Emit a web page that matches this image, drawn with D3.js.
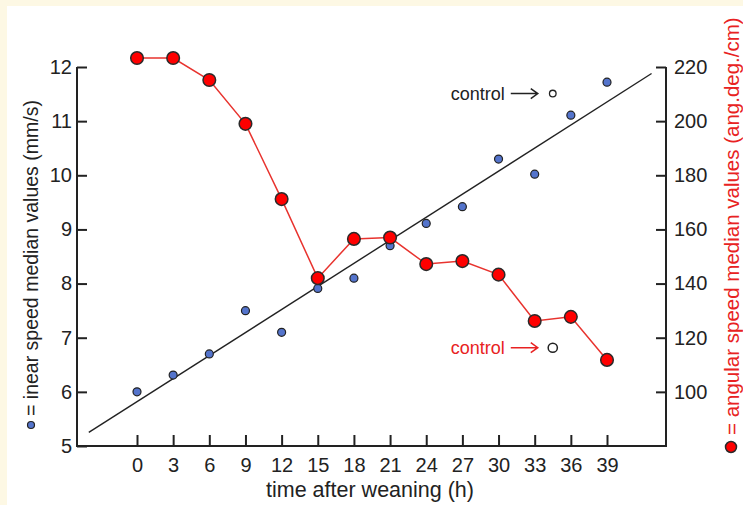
<!DOCTYPE html>
<html><head><meta charset="utf-8">
<script src="https://cdn.jsdelivr.net/npm/d3@7"></script>
<style>
html,body{margin:0;padding:0;background:#fdf8e4;}
svg{display:block;font-family:"Liberation Sans",Arial,sans-serif;}
svg text{font-family:"Liberation Sans",Arial,sans-serif;}
</style></head>
<body>
<svg id="chart" width="743" height="505"></svg>
<script>
const hours = [0,3,6,9,12,15,18,21,24,27,30,33,36,39];
const linearSpeed = [6.0,6.31,6.70,7.50,7.10,7.91,8.10,8.70,9.11,9.42,10.30,10.02,11.11,11.72];
const angularSpeed = [223.3,223.3,215.2,199.0,171.2,142.0,156.5,157.0,147.2,148.3,143.3,126.2,127.7,111.8];
const controlHour = 34.5;
const controlLinear = 11.51;
const controlAngular = 116.3;
const fitHours = [-4.0,42.7];
const fitLinear = [5.25,11.88];
const leftTicks = [5,6,7,8,9,10,11,12];
const rightTicks = [100,120,140,160,180,200,220];
const xTicks = [0,3,6,9,12,15,18,21,24,27,30,33,36,39];

const svg = d3.select("#chart");
svg.append("rect").attr("x",7).attr("y",6).attr("width",736).attr("height",499).attr("fill","#ffffff");

const x = d3.scaleLinear().domain([0,39]).range([137,607]);
const yL = d3.scaleLinear().domain([5,12]).range([446,67]);
const yR = d3.scaleLinear().domain([80,220]).range([446,67]);
const axL = 77, axR = 666, axB = 446, axT = 67;
const ink = "#222";
const fmt = d3.format("d");

// frame
svg.append("path").attr("d",`M${axL},${axT}V${axB}H${axR}V${axT}`)
  .attr("fill","none").attr("stroke",ink).attr("stroke-width",2);

const gL = svg.append("g").attr("transform",`translate(${axL},0)`)
  .call(d3.axisLeft(yL).tickValues(leftTicks).tickFormat(fmt).tickSize(-10).tickSizeOuter(0).tickPadding(5));
const gR = svg.append("g").attr("transform",`translate(${axR},0)`)
  .call(d3.axisRight(yR).tickValues(rightTicks).tickFormat(fmt).tickSize(-10).tickSizeOuter(0).tickPadding(8));
const gB = svg.append("g").attr("transform",`translate(0,${axB})`)
  .call(d3.axisBottom(x).tickValues(xTicks).tickFormat(fmt).tickSize(-11).tickSizeOuter(0).tickPadding(12));
[gL,gR,gB].forEach(g=>{
  g.attr("font-family","Liberation Sans, Arial, sans-serif").attr("font-size",20);
  g.select(".domain").remove();
  g.selectAll(".tick line").attr("stroke",ink).attr("stroke-width",2);
  g.selectAll(".tick text").attr("fill",ink);
});

// x title
svg.append("text").attr("x",370).attr("y",497).attr("text-anchor","middle")
  .attr("fill",ink).attr("font-size",21.5).text("time after weaning (h)");

// regression line
svg.append("line")
  .attr("x1",x(fitHours[0])).attr("y1",yL(fitLinear[0]))
  .attr("x2",x(fitHours[1])).attr("y2",yL(fitLinear[1]))
  .attr("stroke",ink).attr("stroke-width",1.4);

// blue points
svg.append("g").selectAll("circle").data(hours).join("circle")
  .attr("cx",d=>x(d)).attr("cy",(d,i)=>yL(linearSpeed[i])).attr("r",4)
  .attr("fill","#5474cc").attr("stroke",ink).attr("stroke-width",1.2);

// red line and points
const line = d3.line().x(d=>x(d[0])).y(d=>yR(d[1]));
svg.append("path").datum(hours.map((h,i)=>[h,angularSpeed[i]]))
  .attr("d",line).attr("fill","none").attr("stroke","#e8332e").attr("stroke-width",1.5);
svg.append("g").selectAll("circle").data(hours).join("circle")
  .attr("cx",d=>x(d)).attr("cy",(d,i)=>yR(angularSpeed[i])).attr("r",6.3)
  .attr("fill","#ff0000").attr("stroke","#2a2a2a").attr("stroke-width",1.5);

// controls
const cx = x(controlHour);
svg.append("circle").attr("cx",cx).attr("cy",yL(controlLinear)).attr("r",3.3)
  .attr("fill","#fff").attr("stroke",ink).attr("stroke-width",1.3);
svg.append("circle").attr("cx",cx).attr("cy",yR(controlAngular)).attr("r",4.6)
  .attr("fill","#fff").attr("stroke",ink).attr("stroke-width",1.5);

function annot(cy,color){
  svg.append("text").attr("x",cx-48).attr("y",cy+6).attr("text-anchor","end")
    .attr("fill",color).attr("font-size",18).text("control");
  svg.append("path").attr("d",`M${cx-42},${cy}H${cx-15}M${cx-22},${cy-5}L${cx-15},${cy}L${cx-22},${cy+5}`)
    .attr("fill","none").attr("stroke",color).attr("stroke-width",1.5);
}
annot(yL(controlLinear),ink);
annot(yR(controlAngular),"#e82222");

// left label
svg.append("circle").attr("cx",31).attr("cy",425).attr("r",3.5)
  .attr("fill","#5474cc").attr("stroke",ink).attr("stroke-width",1.2);
svg.append("text").attr("transform","translate(38,416) rotate(-90)")
  .attr("fill",ink).attr("font-size",19.5).text("= inear speed median values (mm/s)");
// right label
svg.append("circle").attr("cx",731).attr("cy",447).attr("r",5.5)
  .attr("fill","#ff0000").attr("stroke","#2a2a2a").attr("stroke-width",1.5);
svg.append("text").attr("transform","translate(739,435) rotate(-90)")
  .attr("fill","#e82222").attr("font-size",20.5).text("= angular speed median values (ang.deg./cm)");
</script>
</body></html>
